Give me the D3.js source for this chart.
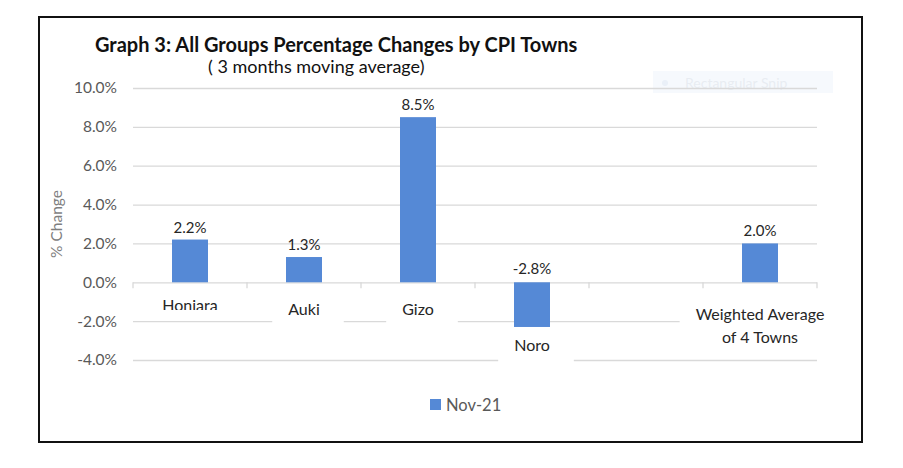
<!DOCTYPE html>
<html>
<head>
<meta charset="utf-8">
<script src="https://cdn.jsdelivr.net/npm/d3@7"></script>
<style>
  body { margin: 0; background: #fff; }
  text { font-family: Lato, "Open Sans", sans-serif; }
</style>
</head>
<body>
<svg id="chart" width="903" height="468"></svg>
<script>
//chart data
var towns = ["Honiara", "Auki", "Gizo", "Noro", "", "Weighted Average|of 4 Towns"];
var changes = [2.2, 1.3, 8.5, -2.3, null, 2.0];
var dataLabels = ["2.2%", "1.3%", "8.5%", "-2.8%", "", "2.0%"];
var yTicks = [-4, -2, 0, 2, 4, 6, 8, 10];
var seriesName = "Nov-21";

var svg = d3.select("#chart");
var barColor = "#5589d6";

//outer frame
svg.append("rect")
    .attr("x", 39).attr("y", 17).attr("width", 823).attr("height", 425)
    .attr("fill", "none").attr("stroke", "#111").attr("stroke-width", 2);

/* SCALES */
var x = d3.scaleBand().domain(d3.range(towns.length)).range([133, 817]);
var y = d3.scaleLinear().domain([-4, 10]).range([360, 88]);

//faint leftover of a snipping tool overlay
var snip = svg.append("g").attr("opacity", 0.5);
snip.append("rect").attr("x", 653).attr("y", 71).attr("width", 180).attr("height", 22).attr("fill", "#eef5fd");
snip.append("circle").attr("cx", 665).attr("cy", 83).attr("r", 3).attr("fill", "#d6e2f2");
snip.append("text").attr("x", 685).attr("y", 88).attr("font-size", 14).attr("fill", "#d3dbe6").text("Rectangular Snip");

/* GRID + Y AXIS */
var yAxis = d3.axisLeft(y).tickValues(yTicks)
    .tickSize(-(817 - 133))
    .tickFormat(function (d) { return d.toFixed(1) + "%"; });

var gy = svg.append("g").attr("transform", "translate(133,0)").call(yAxis);
gy.select(".domain").remove();
gy.selectAll(".tick line").attr("stroke", "#d9d9d9").attr("stroke-width", 1.3);
gy.selectAll(".tick text")
    .attr("x", -16).attr("fill", "#595959").attr("font-size", 15.5);

//zero line ticks at band edges
var edges = d3.range(towns.length + 1).map(function (i) { return 133 + i * x.step(); });
svg.append("g").selectAll("line").data(edges).enter().append("line")
    .attr("x1", function (d) { return d; }).attr("x2", function (d) { return d; })
    .attr("y1", y(0)).attr("y2", y(0) + 6)
    .attr("stroke", "#d9d9d9").attr("stroke-width", 1.3);

svg.append("text")
    .attr("transform", "translate(62," + y(3) + ") rotate(-90)")
    .attr("text-anchor", "middle").attr("font-size", 15.5).attr("fill", "#7f7f7f")
    .text("% Change");

/* BARS */
var barW = 36;
svg.append("g").selectAll("rect")
    .data(changes.map(function (d, i) { return { v: d, i: i }; })
        .filter(function (d) { return d.v !== null; }))
    .enter().append("rect")
    .attr("x", function (d) { return x(d.i) + x.bandwidth() / 2 - barW / 2; })
    .attr("y", function (d) { return y(Math.max(0, d.v)); })
    .attr("width", barW)
    .attr("height", function (d) { return Math.abs(y(d.v) - y(0)); })
    .attr("fill", barColor);

//data labels
svg.append("g").selectAll("text")
    .data(changes).enter().append("text")
    .attr("x", function (d, i) { return x(i) + x.bandwidth() / 2; })
    .attr("y", function (d) { return d === null ? 0 : (d >= 0 ? y(d) - 7 : y(0) - 8); })
    .attr("text-anchor", "middle").attr("font-size", 15).attr("fill", "#262626")
    .text(function (d, i) { return dataLabels[i]; });

/* CATEGORY LABELS (with white boxes that break the grid) */
var labelY = [305, 309, 309, 345, 0, 314];
svg.append("clipPath").attr("id", "cutHon")
    .append("rect").attr("x", 0).attr("y", 0).attr("width", 903).attr("height", 310);
var labels = svg.append("g");
towns.forEach(function (t, i) {
    if (!t) return;
    var cx = x(i) + x.bandwidth() / 2;
    var lines = t.split("|");
    var g = labels.append("g");
    var txt = g.append("text")
        .attr("text-anchor", "middle").attr("font-size", 16).attr("fill", "#262626");
    lines.forEach(function (l, k) {
        txt.append("tspan").attr("x", cx).attr("y", labelY[i] + k * 23).attr("dy", "0.35em").text(l);
    });
    var bb = txt.node().getBBox();
    //noro's box reaches down over the -4% line in the original
    var extra = (i === 3) ? 8 : 0;
    g.insert("rect", "text")
        .attr("x", bb.x - 16).attr("y", bb.y - 4)
        .attr("width", bb.width + 40).attr("height", bb.height + 10 + extra)
        .attr("fill", "#fff");
    if (i === 0) {
        //honiara label looks cut off at the bottom
        g.attr("clip-path", "url(#cutHon)");
    }
});

/* TITLE */
svg.append("text").attr("x", 95).attr("y", 52)
    .attr("font-size", 20).attr("font-weight", "bold").attr("fill", "#111")
    .text("Graph 3: All Groups Percentage Changes by CPI Towns");
svg.append("text").attr("x", 208).attr("y", 73)
    .attr("font-size", 18).attr("fill", "#111")
    .text("( 3 months moving average)");

/* LEGEND */
svg.append("rect").attr("x", 430).attr("y", 399).attr("width", 11).attr("height", 11).attr("fill", barColor);
svg.append("text").attr("x", 446).attr("y", 405).attr("dy", "0.35em")
    .attr("font-size", 16.5).attr("fill", "#595959").text(seriesName);
</script>
</body>
</html>
